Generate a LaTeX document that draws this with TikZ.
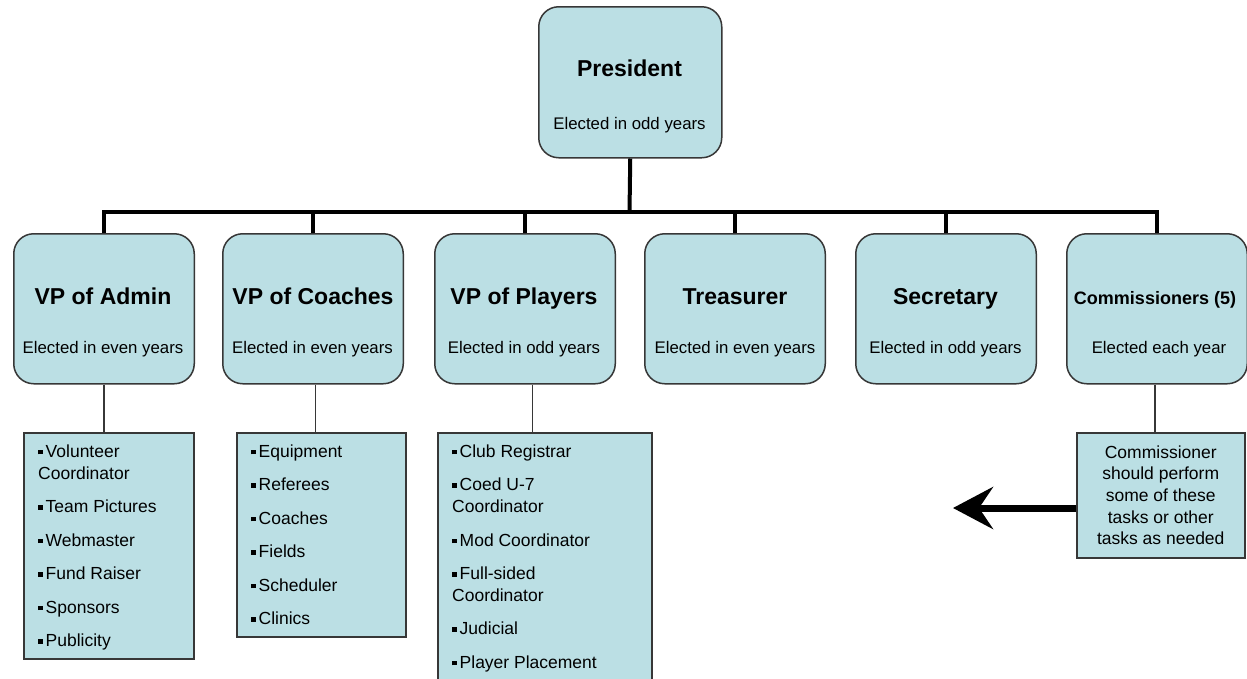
\documentclass[tikz,border=0pt]{standalone}
\usepackage{fontspec}
\setmainfont{Liberation Sans}
\usetikzlibrary{arrows.meta}
\definecolor{boxfill}{RGB}{187,223,228}
\definecolor{boxline}{RGB}{55,55,55}
\newcommand\sqb{\rule[3pt]{4.5pt}{4.5pt}\hspace{3pt}}
\begin{document}
\begin{tikzpicture}[x=1pt,y=-1pt,
  office/.style={draw=boxline, line width=1.5pt, fill=boxfill, rounded corners=20pt,
    minimum width=180.5pt, minimum height=150pt, inner sep=0pt, anchor=north west},
  listbox/.style={draw=boxline, line width=1.5pt, fill=boxfill, inner sep=0pt, anchor=north west},
  titletext/.style={font=\fontsize{23}{26}\selectfont\bfseries, anchor=base, inner sep=0pt},
  subtext/.style={font=\fontsize{16.8}{20}\selectfont, anchor=base, inner sep=0pt},
  listtext/.style={font=\fontsize{17.5}{21.7}\selectfont, align=left, anchor=north west, inner sep=0pt},
  trunk/.style={line width=4pt, black},
  twig/.style={line width=1.5pt, boxline},
  bigarrow/.style={line width=7pt, -{Stealth[length=40pt,width=42pt,inset=14pt]}}
]
\useasboundingbox (0,0) rectangle (1247,678);
\clip (0,0) rectangle (1247,678);
\fill[white] (0,0) rectangle (1247,678);

% President
\node[office, minimum width=183pt, minimum height=151pt] (pres) at (538,6) {};
\node[titletext] (prest) at (629.5,76) {President};
\node[subtext] (press) at (629.5,129) {Elected in odd years};

% Officers
\node[office] (vpa) at (13,233) {};
\node[office] (vpc) at (222,233) {};
\node[office] (vpp) at (434,233) {};
\node[office] (tre) at (644,233) {};
\node[office] (sec) at (855,233) {};
\node[office] (com) at (1066,233) {};

\node[titletext] (vpat) at (103,304.5) {VP of Admin};
\node[subtext] (vpas) at (103,353) {Elected in even years};
\node[titletext] (vpct) at (313,304.5) {VP of Coaches};
\node[subtext] (vpcs) at (312.5,353) {Elected in even years};
\node[titletext] (vppt) at (524,304.5) {VP of Players};
\node[subtext] (vpps) at (524,353) {Elected in odd years};
\node[titletext] (tret) at (735,304.5) {Treasurer};
\node[subtext] (tres) at (735,353) {Elected in even years};
\node[titletext] (sect) at (945.5,304.5) {Secretary};
\node[subtext] (secs) at (945.5,353) {Elected in odd years};
\node[titletext, font=\fontsize{18}{20}\selectfont\bfseries] (comt) at (1155,304.5) {Commissioners (5)};
\node[subtext] (coms) at (1159,353) {Elected each year};

% Trunk connectors
\coordinate (bar) at (629.5,212);
\draw[trunk] (pres.south) -- (bar);
\draw[trunk] (vpa.north) |- (bar) -| (com.north);
\draw[trunk] (vpc.north) -- (vpc.north |- bar);
\draw[trunk] (vpp.north) -- (vpp.north |- bar);
\draw[trunk] (tre.north) -- (tre.north |- bar);
\draw[trunk] (sec.north) -- (sec.north |- bar);

% Task lists
\node[listbox, minimum width=170pt, minimum height=226pt] (la) at (23,432) {};
\node[listbox, minimum width=169pt, minimum height=204pt] (lc) at (236,432) {};
\node[listbox, minimum width=214pt, minimum height=262pt] (lp) at (437,432) {};
\node[listbox, minimum width=168pt, minimum height=125pt, align=center,
      font=\fontsize{17.5}{21.7}\selectfont] (cn) at (1076,432)
      {Commissioner\\should perform\\some of these\\tasks or other\\tasks as needed};

\node[listtext] (lat) at (38,444.5) {\sqb Volunteer\\Coordinator\\[11.8pt]\sqb Team Pictures\\[11.8pt]\sqb Webmaster\\[11.8pt]\sqb Fund Raiser\\[11.8pt]\sqb Sponsors\\[11.8pt]\sqb Publicity};
\node[listtext] (lct) at (251,444.5) {\sqb Equipment\\[11.8pt]\sqb Referees\\[11.8pt]\sqb Coaches\\[11.8pt]\sqb Fields\\[11.8pt]\sqb Scheduler\\[11.8pt]\sqb Clinics};
\node[listtext] (lpt) at (452,444.5) {\sqb Club Registrar\\[11.8pt]\sqb Coed U-7\\Coordinator\\[11.8pt]\sqb Mod Coordinator\\[11.8pt]\sqb Full-sided\\Coordinator\\[11.8pt]\sqb Judicial\\[11.8pt]\sqb Player Placement};

% Thin connectors
\coordinate (jc) at ([xshift=2.5pt]vpc.south);
\coordinate (jp) at ([xshift=7.5pt]vpp.south);
\coordinate (jm) at ([xshift=-2pt]com.south);
\draw[twig] (vpa.south) -- (vpa.south |- la.north);
\draw[twig] (jc) -- (jc |- lc.north);
\draw[twig] (jp) -- (jp |- lp.north);
\draw[twig] (jm) -- (jm |- cn.north);

% Arrow
\coordinate (arrowstart) at (1076,508);
\coordinate (arrowtip) at (953,508);
\draw[bigarrow] (arrowstart) -- (arrowtip);
\end{tikzpicture}
\end{document}
